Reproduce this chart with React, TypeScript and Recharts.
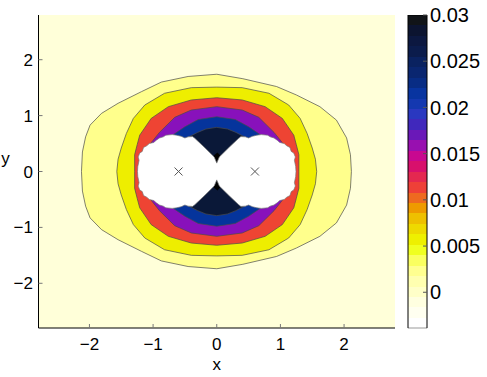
import React from 'react'
import { ComposedChart, BarChart, Bar, Area, Scatter, XAxis, YAxis, CartesianGrid } from 'recharts'

// axis setup
const axisDomain = [-2.8, 2.8]
const axisTicks = [-2, -1, 0, 1, 2]

// point charges
const charges = [{ x: -0.6, y: 0 }, { x: 0.6, y: 0 }]

// contour outlines, upper half (left -> right), mirrored about y = 0
const outerX = [-2.125, -2.11, -2.06, -1.99, -1.81, -1.55, -1.18, -0.87, -0.45, 0, 0.41, 0.94, 1.25, 1.62, 1.88, 2.04, 2.1, 2.115]
const outerY = [0, 0.35, 0.62, 0.83, 1.04, 1.22, 1.43, 1.6, 1.7, 1.74, 1.66, 1.52, 1.37, 1.16, 0.92, 0.6, 0.3, 0]

const yellowX = [-1.57, -1.55, -1.5, -1.42, -1.31, -1.13, -0.82, -0.4, 0, 0.4, 0.82, 1.13, 1.31, 1.42, 1.5, 1.55, 1.57]
const yellowY = [0, 0.22, 0.42, 0.68, 0.95, 1.19, 1.4, 1.5, 1.51, 1.5, 1.4, 1.19, 0.95, 0.68, 0.42, 0.22, 0]

const redX = [-1.29, -1.29, -1.25, -1.21, -1.03, -0.76, -0.4, 0, 0.4, 0.76, 1.03, 1.21, 1.25, 1.29, 1.29]
const redY = [0, 0.3, 0.48, 0.65, 0.95, 1.16, 1.28, 1.32, 1.28, 1.16, 0.95, 0.65, 0.48, 0.3, 0]

const purpleX = [-1.16, -1.12, -1.02, -0.9, -0.66, -0.4, 0, 0.4, 0.66, 0.9, 1.02, 1.12, 1.16]
const purpleY = [0, 0.33, 0.53, 0.7, 0.97, 1.1, 1.16, 1.1, 0.97, 0.7, 0.53, 0.33, 0]

const blueX = [-0.97, -0.92, -0.82, -0.68, -0.5, -0.29, 0, 0.29, 0.5, 0.68, 0.82, 0.92, 0.97]
const blueY = [0, 0.32, 0.52, 0.66, 0.8, 0.93, 0.98, 0.93, 0.8, 0.66, 0.52, 0.32, 0]

const navyX = [-0.79, -0.72, -0.58, -0.42, -0.3, -0.17, 0, 0.17, 0.3, 0.42, 0.58, 0.72, 0.79]
const navyY = [0, 0.33, 0.53, 0.63, 0.7, 0.76, 0.79, 0.76, 0.7, 0.63, 0.53, 0.33, 0]

// excluded (white) zone round the charges, ragged edge
const holeX = [-1.245, -1.24, -1.22, -1.235, -1.21, -1.17, -1.15, -1.1, -1.06, -0.99, -0.95, -0.9, -0.84, -0.8, -0.7, -0.63, -0.56, -0.5, -0.45, -0.38, -0.345, -0.2, -0.04, 0,
  0.04, 0.2, 0.345, 0.38, 0.45, 0.5, 0.56, 0.63, 0.7, 0.8, 0.84, 0.9, 0.95, 0.99, 1.06, 1.1, 1.15, 1.17, 1.21, 1.235, 1.22, 1.24, 1.245]
const holeY = [0, 0.09, 0.2, 0.26, 0.33, 0.36, 0.43, 0.46, 0.5, 0.52, 0.56, 0.6, 0.62, 0.65, 0.66, 0.65, 0.63, 0.6, 0.62, 0.625, 0.595, 0.44, 0.26, 0.15,
  0.26, 0.44, 0.595, 0.625, 0.62, 0.6, 0.63, 0.65, 0.66, 0.65, 0.62, 0.6, 0.56, 0.52, 0.5, 0.46, 0.43, 0.36, 0.33, 0.26, 0.2, 0.09, 0]

// small black tips between the two holes
const tipX = [-0.05, 0.01, 0.06]
const tipLo = [0.28, 0.14, 0.28]
const tipHi = [0.28, 0.34, 0.28]

// colorbar
const cbMin = -0.0039
const cbMax = 0.03
const cbTicks = [0, 0.005, 0.01, 0.015, 0.02, 0.025, 0.03]
const cbColors = [
  '#FFFFFF', '#FFFFF0', '#FFFFE0', '#FFFFC8', '#FFFFB0', '#FFFF90', '#FAFF60', '#F0FF20',
  '#EEF000', '#EEDA00', '#EEC000', '#EE9A00', '#EE6A20', '#EE4038', '#E42850', '#D8106C',
  '#C80890', '#9810B0', '#6A18B8', '#4028BC', '#2A38C0', '#1438B0', '#0834A0', '#082C84',
  '#0A2670', '#0A2260', '#0B1C4C', '#0C1840', '#0C1430', '#111418',
]

const mirror = (xs: number[], ys: number[]) => xs.map((x, i) => ({ x, r: [-ys[i], ys[i]] }))

const contours = [
  { id: 'outer', data: mirror(outerX, outerY), fill: '#FFFF8C' },
  { id: 'yellow', data: mirror(yellowX, yellowY), fill: '#EEEE00' },
  { id: 'red', data: mirror(redX, redY), fill: '#EE4433' },
  { id: 'purple', data: mirror(purpleX, purpleY), fill: '#8811BB' },
  { id: 'blue', data: mirror(blueX, blueY), fill: '#05349C' },
  { id: 'navy', data: mirror(navyX, navyY), fill: '#0A1838' },
]
const tipTop = tipX.map((x, i) => ({ x, r: [tipLo[i], tipHi[i]] }))
const tipBottom = tipX.map((x, i) => ({ x, r: [-tipHi[i], -tipLo[i]] }))
const hole = mirror(holeX, holeY)

const fontFamily = '"Liberation Sans", Arial, sans-serif'
const fmt = (v: number) => (v < 0 ? '\u2212' + Math.abs(v) : String(v))

const XMark = (p: any) => (
  <g stroke="#555" strokeWidth={1}>
    <line x1={p.cx - 4} y1={p.cy - 4} x2={p.cx + 4} y2={p.cy + 4} />
    <line x1={p.cx - 4} y1={p.cy + 4} x2={p.cx + 4} y2={p.cy - 4} />
  </g>
)

export default function App(){
  const tick = { fontSize: 17, fill: '#000', fontFamily }
  return (
    <div style={{ position: 'absolute', left: 0, top: 0, width: 487, height: 377, background: '#fff', fontFamily }}>
      <div style={{ position: 'absolute', left: 0, top: 0 }}>
        <ComposedChart width={487} height={377} margin={{ top: 15, right: 92, bottom: 19, left: 8.5 }}>
          <CartesianGrid horizontal={false} vertical={false} fill="#FFFFD9" />
          <XAxis type="number" dataKey="x" domain={axisDomain} ticks={axisTicks} allowDataOverflow
            tickFormatter={fmt} tick={tick} height={30} tickSize={-4} tickMargin={14}
            axisLine={{ stroke: '#000' }} tickLine={{ stroke: '#777' }}
            label={{ content: (p: any) => <text x={p.viewBox.x + p.viewBox.width / 2} y={p.viewBox.y + 42} textAnchor="middle" fontSize={17} fontFamily={fontFamily}>x</text> }} />
          <XAxis xAxisId="top" orientation="top" type="number" domain={axisDomain} ticks={axisTicks} allowDataOverflow
            height={0} tick={false} tickSize={-4} axisLine={{ stroke: '#000' }} tickLine={{ stroke: '#777' }} />
          <YAxis type="number" dataKey="y" domain={axisDomain} ticks={axisTicks} allowDataOverflow
            tickFormatter={fmt} tick={tick} width={30} tickSize={-4} tickMargin={9.5}
            axisLine={{ stroke: '#000' }} tickLine={{ stroke: '#777' }}
            label={{ content: (p: any) => <text x={p.viewBox.x - 3} y={p.viewBox.y + p.viewBox.height / 2 - 7.5} textAnchor="middle" fontSize={17} fontFamily={fontFamily}>y</text> }} />
          <YAxis yAxisId="right" orientation="right" type="number" domain={axisDomain} ticks={axisTicks} allowDataOverflow
            width={0} tick={false} tickSize={-4} axisLine={{ stroke: '#888' }} tickLine={{ stroke: '#777' }} />
          {contours.map((c) => (
            <Area key={c.id} data={c.data} dataKey="r" type="linear" fill={c.fill} fillOpacity={1}
              stroke="#4a4a4a" strokeWidth={0.7} dot={false} activeDot={false} isAnimationActive={false} />
          ))}
          <Area data={tipTop} dataKey="r" type="linear" fill="#000" fillOpacity={1} stroke="none" dot={false} activeDot={false} isAnimationActive={false} />
          <Area data={tipBottom} dataKey="r" type="linear" fill="#000" fillOpacity={1} stroke="none" dot={false} activeDot={false} isAnimationActive={false} />
          <Area data={hole} dataKey="r" type="linear" fill="#fff" fillOpacity={1} stroke="#777" strokeWidth={0.7} dot={false} activeDot={false} isAnimationActive={false} />
          <Scatter data={charges} shape={<XMark />} isAnimationActive={false} />
        </ComposedChart>
      </div>
      <div style={{ position: 'absolute', left: 0, top: 0 }}>
        <BarChart width={487} height={377} data={[{ name: 'cb', v: [cbMin, cbMax] }]} barCategoryGap={0}
          margin={{ top: 15, right: 10, bottom: 48.7, left: 408 }}>
          <defs>
            <linearGradient id="cmap" x1="0" y1="1" x2="0" y2="0">
              {cbColors.flatMap((c, i) => [
                <stop key={i + 'a'} offset={i / cbColors.length} stopColor={c} />,
                <stop key={i + 'b'} offset={(i + 1) / cbColors.length} stopColor={c} />,
              ])}
            </linearGradient>
          </defs>
          <XAxis dataKey="name" hide />
          <YAxis orientation="right" type="number" domain={[cbMin, cbMax]} ticks={cbTicks} allowDataOverflow
            width={50} tickSize={-4} tickMargin={7} axisLine={false} tickLine={{ stroke: '#555' }}
            tick={{ fontSize: 20, fill: '#000', fontFamily, textAnchor: 'start' }} />
          <Bar dataKey="v" fill="url(#cmap)" stroke="#000" strokeWidth={1} isAnimationActive={false} />
        </BarChart>
      </div>
    </div>
  )
}
